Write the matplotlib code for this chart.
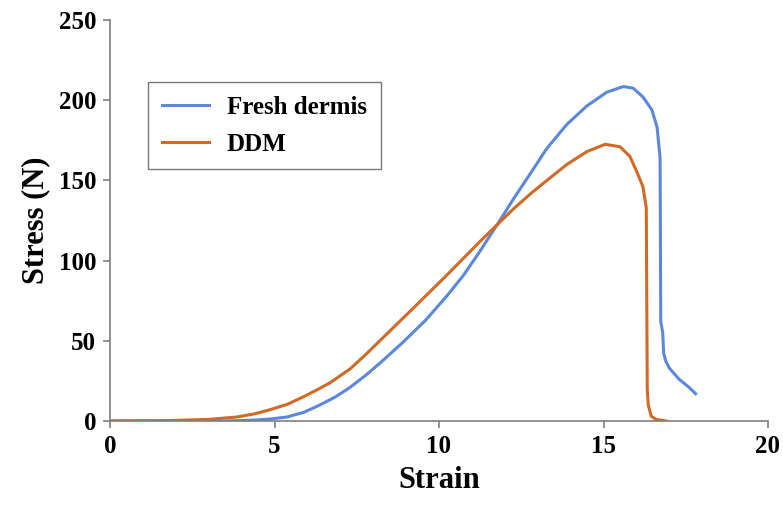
import matplotlib.pyplot as plt

plt.rcParams["font.family"] = "serif"
plt.rcParams["font.serif"] = ["Liberation Serif", "DejaVu Serif"]
plt.rcParams["font.weight"] = "bold"

# Fresh dermis (strain, stress)
fresh_strain = [0, 3.5, 4.35, 4.9, 5.38, 5.9, 6.38, 6.85, 7.3, 7.8, 8.2, 8.9, 9.6,
                10.24, 10.75, 11.25, 11.85, 12.25, 12.8, 13.28, 13.89, 14.5, 15.1,
                15.6, 15.9, 16.2, 16.47, 16.63, 16.72, 16.74, 16.8, 16.83, 16.9,
                17.0, 17.3, 17.6, 17.8]
fresh_stress = [0, 0, 0.5, 1.3, 2.5, 5.5, 10, 15, 21, 29, 36, 49, 63,
                78, 91, 106, 125, 138, 155, 170, 185, 196.5, 205,
                208.5, 207.5, 202, 194, 183, 164, 62, 55, 42, 37,
                33, 26, 21, 17]

# DDM (strain, stress)
ddm_strain = [0, 1.8, 3.0, 3.86, 4.4, 4.86, 5.4, 5.87, 6.3, 6.7, 7.3, 7.75, 8.2,
              9.2, 10.24, 11.25, 11.85, 12.25, 12.8, 13.28, 13.89, 14.5, 15.05,
              15.5, 15.8, 16.0, 16.2, 16.3, 16.33, 16.36, 16.45, 16.6, 16.9]
ddm_stress = [0, 0.3, 1, 2.5, 4.5, 7, 10.5, 15, 19.5, 24, 32.5, 41, 50,
              70, 91, 112, 124, 132, 142, 150, 160, 168, 172.5,
              171, 165, 156, 146, 133, 20, 10, 3, 1, 0]

strain_ticks = [0, 5, 10, 15, 20]
stress_ticks = [0, 50, 100, 150, 200, 250]

color_fresh = "#5B88DA"
color_ddm = "#D06A26"

fig = plt.figure(figsize=(7.83, 5.08), dpi=100)
ax = fig.add_axes([110 / 783, 1 - 421 / 508, 658 / 783, 401 / 508])

ax.plot(fresh_strain, fresh_stress, color=color_fresh, linewidth=2.2, label="Fresh dermis")
ax.plot(ddm_strain, ddm_stress, color=color_ddm, linewidth=2.2, label="DDM")

ax.set_xlim(0, 20)
ax.set_ylim(0, 250)
ax.set_xticks(strain_ticks)
ax.set_yticks(stress_ticks)

for side in ("top", "right"):
    ax.spines[side].set_visible(False)
for side in ("left", "bottom"):
    ax.spines[side].set_color("#7f7f7f")
    ax.spines[side].set_linewidth(1.2)

ax.tick_params(axis="both", direction="out", length=5, width=1.2, color="#7f7f7f",
               labelsize=18, pad=5)
for lab in ax.get_xticklabels() + ax.get_yticklabels():
    lab.set_fontweight("bold")

ax.set_xlabel("Strain", fontsize=22, fontweight="bold", labelpad=6)
ax.set_ylabel("Stress (N)", fontsize=22, fontweight="bold", labelpad=6)

leg = ax.legend(loc="upper left", bbox_to_anchor=(0.058, 0.845), fontsize=18,
                frameon=True, fancybox=False, handlelength=1.9, borderpad=0.55,
                labelspacing=0.55, handletextpad=0.7, borderaxespad=0)
leg.get_frame().set_edgecolor("#555555")
leg.get_frame().set_linewidth(1.0)
for t in leg.get_texts():
    t.set_fontweight("bold")

fig.savefig("out.png", dpi=100)
